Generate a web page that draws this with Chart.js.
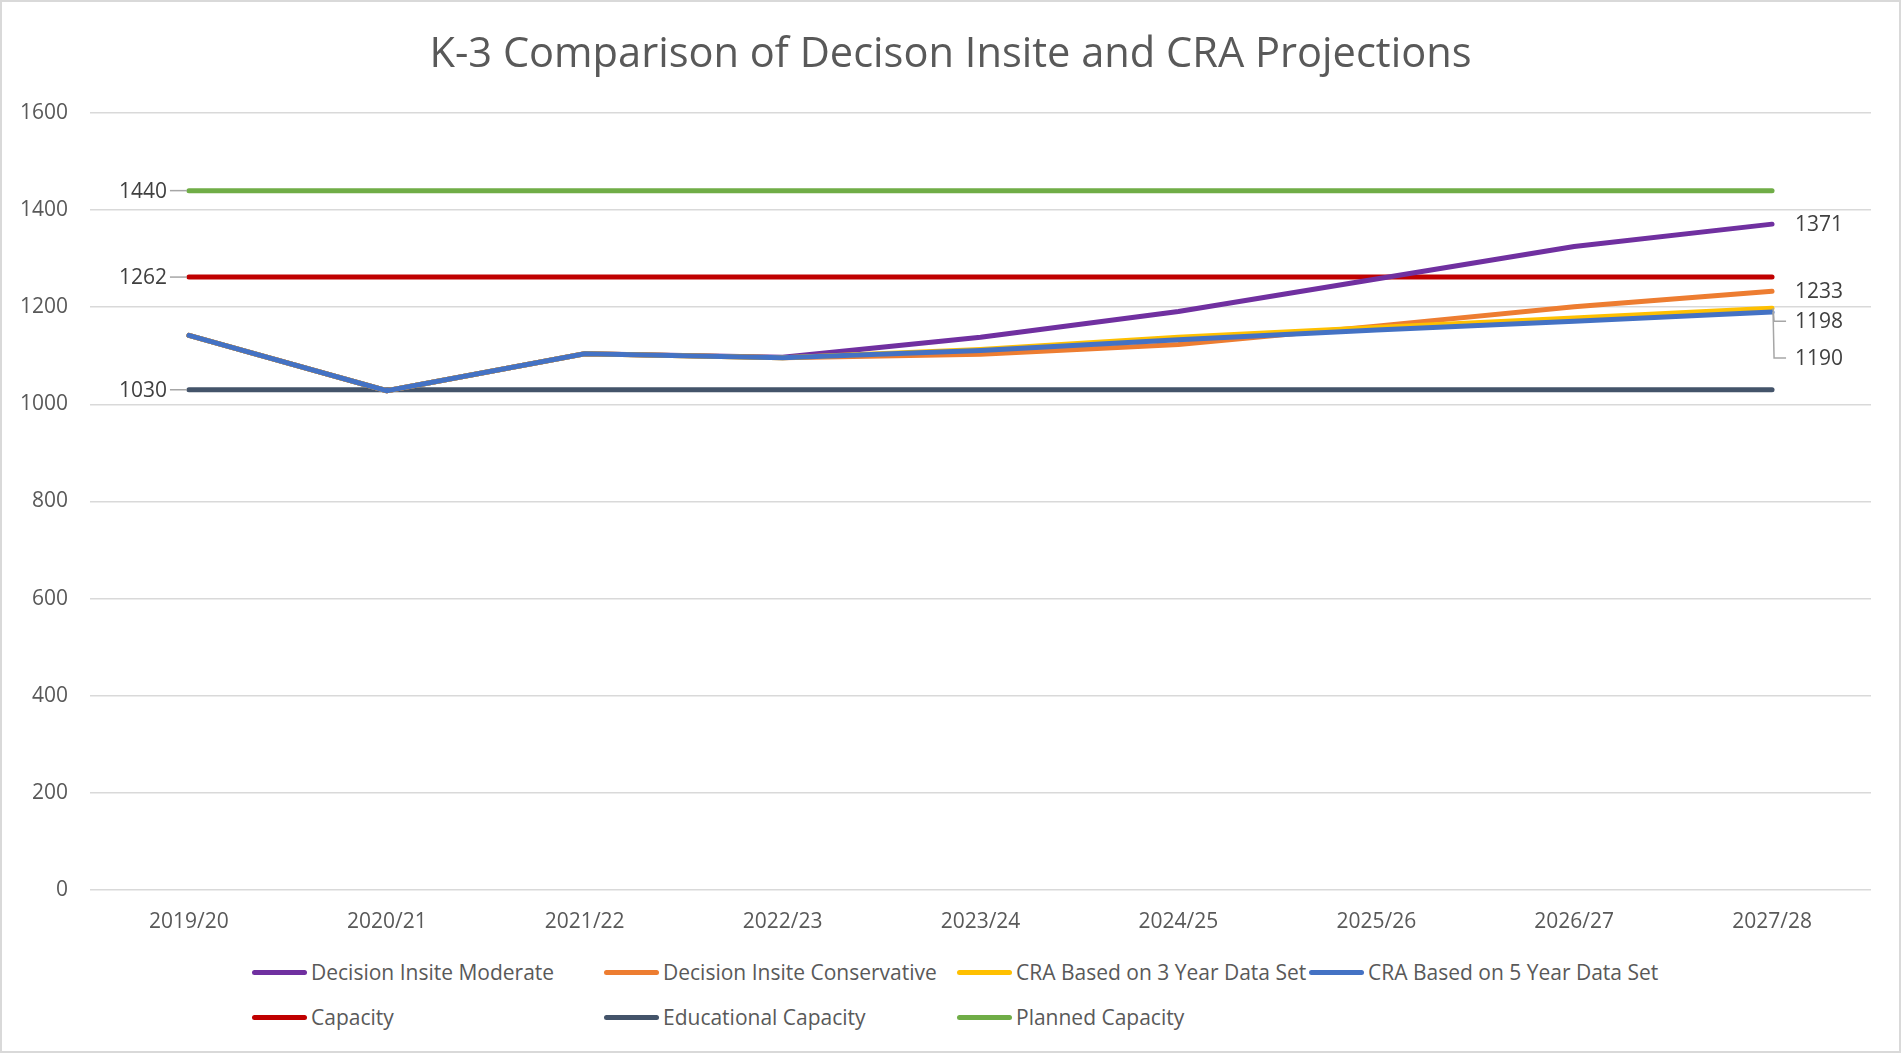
<!DOCTYPE html>
<html>
<head>
<meta charset="utf-8">
<script src="https://cdn.jsdelivr.net/npm/chart.js@4.4.1/dist/chart.umd.min.js"></script>
<style>
  body { margin: 0; background: #fff; }
  #wrap { position: relative; width: 1901px; height: 1053px; box-sizing: border-box; border: 2px solid #d9d9d9; overflow: hidden; }
  #myChart { position: absolute; left: -2px; top: 0px; }
  #legend { position: absolute; left: 0; top: 0; width: 1901px; font-family: "Open Sans", sans-serif; font-size: 21px; color: #595959; }
  .item { position: absolute; display: flex; align-items: center; white-space: nowrap; transform: translateY(-50%); }
  .sym { width: 55px; height: 5px; border-radius: 3px; margin-right: 4px; }
</style>
</head>
<body>
<div id="wrap">
  <canvas id="myChart" width="1901" height="945"></canvas>
  <div id="legend"></div>
</div>
<script>
const years = ["2019/20", "2020/21", "2021/22", "2022/23", "2023/24", "2024/25", "2025/26", "2026/27", "2027/28"];

const moderate = [1142, 1028, 1104, 1097, 1138, 1191, 1258, 1325, 1371];
const conservative = [1142, 1028, 1104, 1096, 1103, 1123, 1161, 1201, 1233];
const cra3 = [1142, 1028, 1104, 1096, 1113, 1138, 1158, 1178, 1198];
const cra5 = [1142, 1028, 1104, 1096, 1111, 1133, 1153, 1171, 1190];
const capacity = [1262, 1262, 1262, 1262, 1262, 1262, 1262, 1262, 1262];
const eduCapacity = [1030, 1030, 1030, 1030, 1030, 1030, 1030, 1030, 1030];
const plannedCapacity = [1440, 1440, 1440, 1440, 1440, 1440, 1440, 1440, 1440];

const yTicks = [0, 200, 400, 600, 800, 1000, 1200, 1400, 1600];

function line(label, data, color, order) {
  return {
    label: label, data: data, borderColor: color, backgroundColor: color,
    borderWidth: 5, pointRadius: 0, tension: 0, order: order,
    borderCapStyle: 'round', borderJoinStyle: 'round'
  };
}

// which series get value labels, and at which end
const leftLabelled = [4, 5, 6];
const rightLabelled = [0, 1, 2, 3];

const labelPlugin = {
  id: 'valueLabels',
  afterDatasetsDraw(chart) {
    const ctx = chart.ctx;
    ctx.save();
    ctx.font = '21px "Open Sans"';
    ctx.fillStyle = '#404040';
    ctx.textBaseline = 'middle';
    ctx.strokeStyle = '#a6a6a6';
    ctx.lineWidth = 1.5;
    leftLabelled.forEach(i => {
      const ds = chart.data.datasets[i];
      const p = chart.getDatasetMeta(i).data[0];
      ctx.beginPath();
      ctx.moveTo(p.x - 19, p.y);
      ctx.lineTo(p.x - 2, p.y);
      ctx.stroke();
      ctx.textAlign = 'right';
      ctx.fillText(String(ds.data[0]), p.x - 22, p.y + 1);
    });
    const shift = { 2: 13, 3: 46 };
    rightLabelled.forEach(i => {
      const ds = chart.data.datasets[i];
      const n = ds.data.length - 1;
      const p = chart.getDatasetMeta(i).data[n];
      const dy = shift[i] || 0;
      if (dy) {
        ctx.beginPath();
        ctx.moveTo(p.x + 1, p.y);
        ctx.lineTo(p.x + 2, p.y + dy);
        ctx.lineTo(p.x + 14, p.y + dy);
        ctx.stroke();
      }
      ctx.textAlign = 'left';
      ctx.fillText(String(ds.data[n]), p.x + 23, p.y + dy + 1);
    });
    ctx.restore();
  }
};

Chart.defaults.font.family = '"Open Sans", sans-serif';
Chart.defaults.color = '#595959';

const ctx = document.getElementById('myChart');
const myChart = new Chart(ctx, {
  type: 'line',
  data: {
    labels: years,
    datasets: [
      line('Decision Insite Moderate', moderate, '#7030A0', 4),
      line('Decision Insite Conservative', conservative, '#ED7D31', 3),
      line('CRA Based on 3 Year Data Set', cra3, '#FFC000', 2),
      line('CRA Based on 5 Year Data Set', cra5, '#4472C4', 1),
      line('Capacity', capacity, '#C00000', 6),
      line('Educational Capacity', eduCapacity, '#44546A', 5),
      line('Planned Capacity', plannedCapacity, '#70AD47', 7)
    ]
  },
  options: {
    responsive: false,
    animation: false,
    layout: { padding: 0 },
    plugins: {
      legend: { display: false },
      tooltip: { enabled: false },
      title: {
        display: true,
        text: 'K-3 Comparison of Decison Insite and CRA Projections',
        font: { size: 41.6, weight: 'normal' },
        color: '#595959',
        padding: { top: 28, bottom: 33 }
      }
    },
    scales: {
      x: {
        offset: true,
        grid: { display: false },
        border: { display: false },
        ticks: { font: { size: 21 }, padding: 11, maxRotation: 0 },
        afterFit(scale) { scale.height = 57; }
      },
      y: {
        min: 0, max: 1600,
        afterBuildTicks(scale) { scale.ticks = yTicks.map(v => ({ value: v })); },
        grid: { color: '#d9d9d9', lineWidth: 1.5, drawTicks: false },
        border: { display: false },
        ticks: { font: { size: 21 }, padding: 22, callback: v => String(v) },
        afterFit(scale) { scale.width = 90; }
      },
      // empty right-hand spacer so the plot ends where the original's does
      yRight: {
        position: 'right',
        min: 0, max: 1600,
        grid: { display: false },
        border: { display: false },
        ticks: { display: false },
        afterFit(scale) { scale.width = 30; }
      }
    }
  },
  plugins: [labelPlugin]
});

// legend laid out in columns like the original
const legendCols = [250, 602, 955, 1307];
const legendRows = [970, 1015];
const legendBox = document.getElementById('legend');
myChart.data.datasets.forEach((ds, i) => {
  const item = document.createElement('div');
  item.className = 'item';
  item.style.left = legendCols[i % 4] + 'px';
  item.style.top = legendRows[Math.floor(i / 4)] + 'px';
  item.innerHTML = `<span class="sym" style="background:${ds.borderColor}"></span><span>${ds.label}</span>`;
  legendBox.appendChild(item);
});
</script>
</body>
</html>
